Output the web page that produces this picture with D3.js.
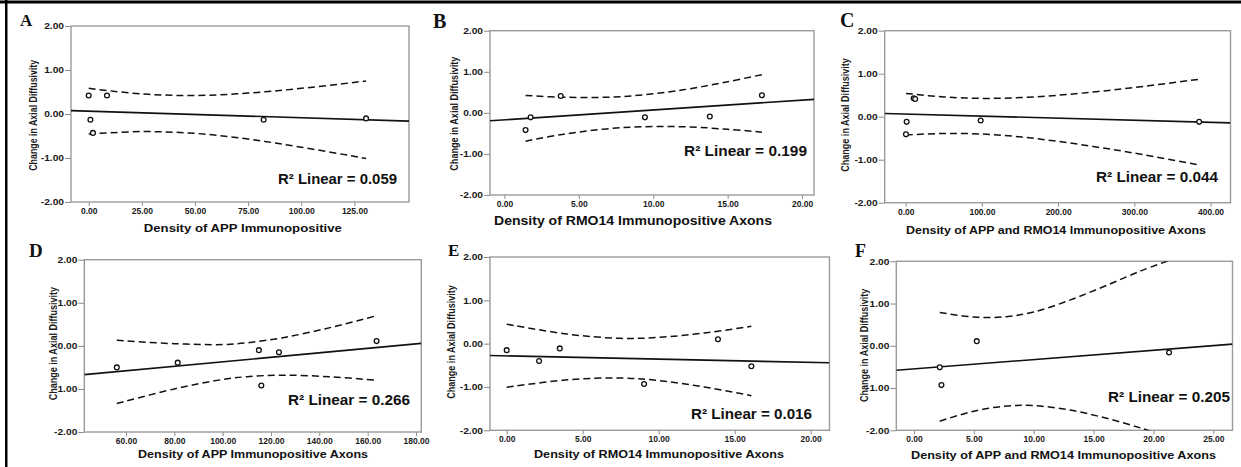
<!DOCTYPE html>
<html>
<head>
<meta charset="utf-8">
<script src="https://cdn.jsdelivr.net/npm/d3@7"></script>
<style>
  body { margin: 0; background: #fff; }
  svg { display: block; }
  .sans { font-family: "Liberation Sans", Arial, Helvetica, sans-serif; }
  .serif { font-family: "Liberation Serif", "Times New Roman", serif; }
</style>
</head>
<body>
<svg id="fig" width="1241" height="467"></svg>
<script>
// ---- values ----
const panelLetters = ["A", "B", "C", "D", "E", "F"];
const xTitles = [
  "Density of APP Immunopositive",
  "Density of RMO14 Immunopositive Axons",
  "Density of APP and RMO14 Immunopositive Axons",
  "Density of APP Immunopositive Axons",
  "Density of RMO14 Immunopositive Axons",
  "Density of APP and RMO14 Immunopositive Axons"
];
const yTitle = "Change in Axial Diffusivity";
const r2Values = ["0.059", "0.199", "0.044", "0.266", "0.016", "0.205"];
const yTicks = [-2, -1, 0, 1, 2];

const xTicksA = [0, 25, 50, 75, 100, 125];
const xTicksB = [0, 5, 10, 15, 20];
const xTicksC = [0, 100, 200, 300, 400];
const xTicksD = [60, 80, 100, 120, 140, 160, 180];
const xTicksE = [0, 5, 10, 15, 20];
const xTicksF = [0, 5, 10, 15, 20, 25];

// observations: density (x) and change in axial diffusivity (y)
const densityA = [0, 0.8, 2.0, 8.6, 82.3, 130.5];
const changeA  = [0.42, -0.13, -0.43, 0.42, -0.13, -0.10];
const densityB = [1.42, 1.76, 3.78, 9.44, 13.8, 17.3];
const changeB  = [-0.42, -0.11, 0.41, -0.11, -0.09, 0.43];
const densityC = [0.4, 1.3, 10.5, 12.5, 98.4, 385];
const changeC  = [-0.41, -0.12, 0.43, 0.41, -0.09, -0.12];
const densityD = [56.2, 81.4, 115, 116, 123.3, 163.7];
const changeD  = [-0.50, -0.39, -0.10, -0.92, -0.15, 0.11];
const densityE = [0, 2.13, 3.49, 9.04, 13.9, 16.1];
const changeE  = [-0.15, -0.40, -0.11, -0.93, 0.10, -0.52];
const densityF = [2.15, 2.29, 5.24, 21.3];
const changeF  = [-0.51, -0.93, 0.11, -0.16];

// linear fit: [intercept, slope]
const fitA = [0.064, -0.0015];
const fitB = [-0.17, 0.024];
const fitC = [0.062, -0.00048];
const fitD = [-0.89, 0.0052];
const fitE = [-0.282, -0.0075];
const fitF = [-0.546, 0.022];

// 95% confidence band of the mean
const bandXA = [0, 25, 50, 75, 100, 130.5];
const bandHiA = [0.583, 0.457, 0.42, 0.475, 0.583, 0.75];
const bandLoA = [-0.455, -0.40, -0.44, -0.57, -0.755, -1.01];
const bandXB = [1.42, 4, 7.92, 12, 15, 17.3];
const bandHiB = [0.424, 0.379, 0.397, 0.56, 0.758, 0.93];
const bandLoB = [-0.69, -0.519, -0.359, -0.338, -0.40, -0.47];
const bandXC = [0.4, 50, 100, 150, 200, 250, 300, 385];
const bandHiC = [0.542, 0.46, 0.426, 0.444, 0.50, 0.582, 0.679, 0.87];
const bandLoC = [-0.425, -0.39, -0.404, -0.469, -0.574, -0.703, -0.847, -1.12];
const bandXD = [56.2, 80, 100, 110, 125, 145, 163.7];
const bandHiD = [0.13, 0.05, 0.03, 0.07, 0.19, 0.43, 0.70];
const bandLoD = [-1.34, -1.0, -0.781, -0.716, -0.68, -0.72, -0.80];
const bandXE = [0, 4, 7.44, 10, 13, 16.1];
const bandHiE = [0.45, 0.22, 0.123, 0.144, 0.246, 0.40];
const bandLoE = [-1.006, -0.836, -0.793, -0.852, -1.0, -1.20];
const bandXF = [2.15, 5, 7.75, 10, 13, 16, 19, 21.3];
const bandHiF = [0.79, 0.68, 0.69, 0.80, 1.08, 1.42, 1.78, 2.02];
const bandLoF = [-1.784, -1.547, -1.425, -1.417, -1.519, -1.71, -1.951, -2.16];

// ---- assembled series ----
const series = [
  { x: densityA, y: changeA, fit: fitA, bx: bandXA, hi: bandHiA, lo: bandLoA, ticks: xTicksA },
  { x: densityB, y: changeB, fit: fitB, bx: bandXB, hi: bandHiB, lo: bandLoB, ticks: xTicksB },
  { x: densityC, y: changeC, fit: fitC, bx: bandXC, hi: bandHiC, lo: bandLoC, ticks: xTicksC },
  { x: densityD, y: changeD, fit: fitD, bx: bandXD, hi: bandHiD, lo: bandLoD, ticks: xTicksD },
  { x: densityE, y: changeE, fit: fitE, bx: bandXE, hi: bandHiE, lo: bandLoE, ticks: xTicksE },
  { x: densityF, y: changeF, fit: fitF, bx: bandXF, hi: bandHiF, lo: bandLoF, ticks: xTicksF }
];

// ---- layout: plot frame [left, right, top, bottom], x axis range, text placement ----
const layout = [
  { frame: [71, 409, 26, 202],      xDom: [-8.33, 150.7], letter: [20, 25.5, 17],
    yT: [33.3, 115.3, 111],   xT: [242.8, 232, 198, 11.5],  r2: [397, 184, 119] },
  { frame: [490, 814, 30.7, 195],   xDom: [-0.97, 20.8],  letter: [433, 28, 20],
    yT: [454, 113.7, 114],    xT: [633, 224.5, 278, 12], r2: [807, 155.5, 123] },
  { frame: [884.7, 1230.5, 30.7, 202.7], xDom: [-27.5, 426.1], letter: [840, 27, 20],
    yT: [844.7, 115, 113.4],  xT: [1056, 234, 300, 11.5],   r2: [1218, 181.5, 122] },
  { frame: [84.3, 421.3, 259.7, 432], xDom: [42.75, 182.2], letter: [29, 257, 19],
    yT: [53.3, 343.7, 113.3], xT: [253, 457.5, 230, 11], r2: [410, 405, 122] },
  { frame: [490, 829.5, 257, 430.3], xDom: [-1.1, 21.24], letter: [448, 255.5, 17],
    yT: [450.7, 342, 113.4],  xT: [659, 457.5, 250, 11], r2: [812, 419, 121] },
  { frame: [896.3, 1232.5, 261.3, 430.3], xDom: [-1.48, 26.6], letter: [855, 257, 18],
    yT: [864, 345.3, 113.3],  xT: [1063.5, 458.5, 305, 11], r2: [1230, 402, 122] }
];

const W = 1241, H = 467;
const svg = d3.select("#fig");
svg.append("rect").attr("width", W).attr("height", H).attr("fill", "#fff");

// black rules along the top and left edges
svg.append("rect").attr("x", 0).attr("y", 0.5).attr("width", W).attr("height", 3).attr("fill", "#000");
svg.append("rect").attr("x", 5).attr("y", 0).attr("width", 2.5).attr("height", H).attr("fill", "#000");

const defs = svg.append("defs");

// widen horizontal glyphs by a factor
function widen(sel, factor) {
  sel.each(function () {
    const w = this.getComputedTextLength();
    d3.select(this).attr("textLength", w * factor).attr("lengthAdjust", "spacingAndGlyphs");
  });
}

series.forEach((s, i) => {
  const L = layout[i];
  const [fl, fr, ft, fb] = L.frame;
  const x = d3.scaleLinear().domain(L.xDom).range([fl, fr]);
  const y = d3.scaleLinear().domain([-2, 2]).range([fb, ft]);
  const g = svg.append("g");

  const clipId = "clip" + i;
  defs.append("clipPath").attr("id", clipId)
    .append("rect").attr("x", fl).attr("y", ft).attr("width", fr - fl).attr("height", fb - ft);

  // axes
  const yAxis = d3.axisLeft(y).tickValues(yTicks).tickFormat(d => d.toFixed(2))
    .tickSize(6).tickPadding(1);
  const xAxis = d3.axisBottom(x).tickValues(s.ticks).tickFormat(d => d.toFixed(2))
    .tickSize(4).tickPadding(2);

  const gy = g.append("g").attr("transform", `translate(${fl},0)`).call(yAxis);
  const gx = g.append("g").attr("transform", `translate(0,${fb})`).call(xAxis);
  [gy, gx].forEach(ax => {
    ax.attr("font-family", null).attr("font-size", null);
    ax.select(".domain").remove();
    ax.selectAll(".tick line").attr("stroke", "#8a8a8a").attr("stroke-width", 1);
    ax.selectAll(".tick text")
      .attr("class", "sans")
      .attr("fill", "#1a1a1a")
      .attr("font-size", 8.5)
      .attr("font-weight", "bold");
  });
  gy.selectAll(".tick text").attr("dy", "0.34em");
  widen(gy.selectAll(".tick text"), 1.2);

  // plot frame
  g.append("rect")
    .attr("x", fl).attr("y", ft).attr("width", fr - fl).attr("height", fb - ft)
    .attr("fill", "none").attr("stroke", "#9a9a9a").attr("stroke-width", 1.4);

  const plot = g.append("g").attr("clip-path", `url(#${clipId})`);

  // confidence band (dashed)
  const curve = d3.line().x(d => x(d[0])).y(d => y(d[1])).curve(d3.curveCatmullRom.alpha(0.5));
  [s.hi, s.lo].forEach(arr => {
    plot.append("path")
      .attr("d", curve(s.bx.map((v, k) => [v, arr[k]])))
      .attr("fill", "none").attr("stroke", "#111").attr("stroke-width", 1.5)
      .attr("stroke-dasharray", "7,4");
  });

  // fitted line across the whole frame
  const [a, b] = s.fit;
  plot.append("line")
    .attr("x1", x(L.xDom[0])).attr("y1", y(a + b * L.xDom[0]))
    .attr("x2", x(L.xDom[1])).attr("y2", y(a + b * L.xDom[1]))
    .attr("stroke", "#111").attr("stroke-width", 1.6);

  // observations
  plot.selectAll("circle.pt").data(s.x.map((v, k) => [v, s.y[k]])).join("circle")
    .attr("class", "pt")
    .attr("cx", d => x(d[0])).attr("cy", d => y(d[1])).attr("r", 2.4)
    .attr("fill", "#fff").attr("stroke", "#111").attr("stroke-width", 1.3);

  // panel letter
  g.append("text")
    .attr("class", "serif")
    .attr("x", L.letter[0]).attr("y", L.letter[1])
    .attr("font-weight", "bold").attr("font-size", L.letter[2]).attr("fill", "#111")
    .text(panelLetters[i]);

  // y title (rotated, glyphs widened)
  g.append("text")
    .attr("class", "sans")
    .attr("transform", `translate(${L.yT[0]},${L.yT[1]}) rotate(-90) scale(1,1.2)`)
    .attr("text-anchor", "middle").attr("dominant-baseline", "central")
    .attr("font-size", 9.5).attr("font-weight", "bold").attr("fill", "#1a1a1a")
    .attr("textLength", L.yT[2]).attr("lengthAdjust", "spacingAndGlyphs")
    .text(yTitle);

  // x title
  g.append("text")
    .attr("class", "sans")
    .attr("x", L.xT[0]).attr("y", L.xT[1])
    .attr("text-anchor", "middle")
    .attr("font-size", L.xT[3]).attr("font-weight", "bold").attr("fill", "#111")
    .attr("textLength", L.xT[2]).attr("lengthAdjust", "spacingAndGlyphs")
    .text(xTitles[i]);

  // R² annotation
  g.append("text")
    .attr("class", "sans")
    .attr("x", L.r2[0]).attr("y", L.r2[1])
    .attr("text-anchor", "end")
    .attr("font-size", 14.5).attr("font-weight", "bold").attr("fill", "#111")
    .attr("textLength", L.r2[2]).attr("lengthAdjust", "spacingAndGlyphs")
    .text("R² Linear = " + r2Values[i]);
});
</script>
</body>
</html>
